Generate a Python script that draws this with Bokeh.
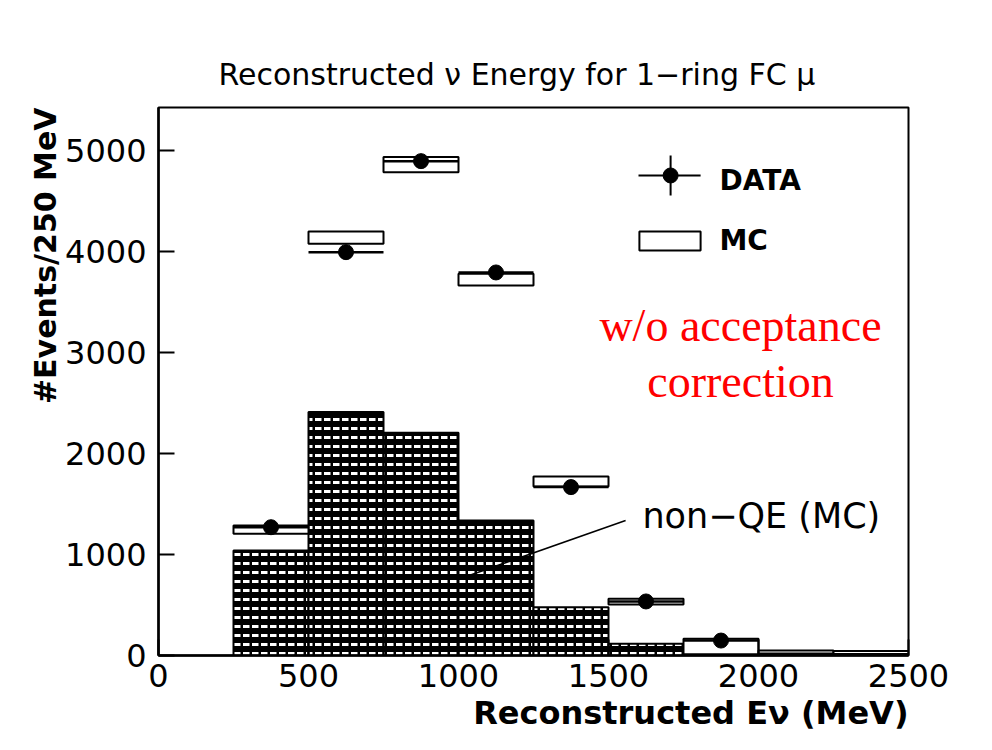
from bokeh.plotting import figure
from bokeh.models import Range1d, FixedTicker, Title, Label
from bokeh.embed import file_html
from bokeh.resources import INLINE

# 250 MeV bins of reconstructed neutrino energy
bin_lo = [250, 500, 750, 1000, 1250, 1500, 1750, 2000, 2250]
bin_hi = [500, 750, 1000, 1250, 1500, 1750, 2000, 2250, 2500]

# non-QE component of the MC (hatched histogram)
nonqe = [1040, 2410, 2205, 1337, 478, 116, 15, 5, 2]

# MC prediction band per bin (open boxes)
mc_low = [1205, 4076, 4785, 3663, 1673, 505, 12, 20, 15]
mc_high = [1287, 4198, 4934, 3779, 1772, 561, 165, 50, 45]

# observed events
data_e = [375, 625, 875, 1125, 1375, 1625, 1875]
data_n = [1270, 3993, 4894, 3792, 1667, 535, 148]
data_err = [36, 63, 70, 62, 41, 23, 12]
half_bin = 125

x_ticks = [0, 500, 1000, 1500, 2000, 2500]
y_ticks = [0, 1000, 2000, 3000, 4000, 5000]

FONT = "DejaVu Sans"

p = figure(width=992, height=750, output_backend="svg", toolbar_location=None,
           x_range=Range1d(0, 2500), y_range=Range1d(0, 5425),
           min_border_left=158, min_border_right=84,
           min_border_top=107, min_border_bottom=95)
p.background_fill_color = "white"
p.border_fill_color = "white"
p.outline_line_color = "black"
p.outline_line_width = 2
p.xgrid.visible = False
p.ygrid.visible = False

# title
p.title.text = "Reconstructed \u03bd Energy for 1\u2212ring FC \u03bc"
p.title.text_font = FONT
p.title.text_font_size = "30px"
p.title.text_font_style = "normal"
p.title.text_color = "black"
p.title.align = "left"
p.title.offset = 60
p.title.standoff = 32

# axes
for ax, ticks in ((p.xaxis[0], x_ticks), (p.yaxis[0], y_ticks)):
    ax.ticker = FixedTicker(ticks=ticks)
    ax.minor_tick_line_color = None
    ax.major_tick_in = 16
    ax.major_tick_out = 0
    ax.major_tick_line_width = 2
    ax.axis_line_width = 2.5
    ax.major_label_text_font = FONT
    ax.major_label_text_font_size = "32px"
    ax.major_label_text_color = "black"
p.yaxis[0].major_label_standoff = 12
p.xaxis[0].major_label_standoff = 8

p.add_layout(Title(text="Reconstructed E\u03bd (MeV)", align="right",
                   text_font=FONT, text_font_size="32px", text_color="black",
                   text_font_style="bold", standoff=4), "below")
p.add_layout(Title(text="#Events/250 MeV", align="right",
                   text_font=FONT, text_font_size="30px", text_color="black",
                   text_font_style="bold", standoff=0), "left")

# non-QE histogram
p.quad(left=bin_lo, right=bin_hi, bottom=0, top=nonqe,
       fill_color="black", hatch_pattern="horizontal_dash",
       hatch_color="white", hatch_scale=9, hatch_weight=3,
       line_color="black", line_width=2)

# MC boxes
p.quad(left=bin_lo, right=bin_hi, bottom=mc_low, top=mc_high,
       fill_color="white", line_color="black", line_width=2)

# data points with bin-width bars
d_left = [e - half_bin for e in data_e]
d_right = [e + half_bin for e in data_e]
p.segment(x0=d_left, x1=d_right, y0=data_n, y1=data_n,
          line_color="black", line_width=2.5)
p.segment(x0=data_e, x1=data_e,
          y0=[n - s for n, s in zip(data_n, data_err)],
          y1=[n + s for n, s in zip(data_n, data_err)],
          line_color="black", line_width=2)
p.scatter(x=data_e, y=data_n, size=15, marker="circle",
          fill_color="black", line_color="black")

# legend
p.segment(x0=[1600, 1707], x1=[1807, 1707], y0=[4752, 4950], y1=[4752, 4554],
          line_color="black", line_width=2)
p.scatter(x=[1707], y=[4752], size=15, marker="circle",
          fill_color="black", line_color="black")
p.quad(left=[1603], right=[1807], bottom=[4010], top=[4198],
       fill_color="white", line_color="black", line_width=2)
p.add_layout(Label(x=1870, y=4700, text="DATA", text_font=FONT, text_color="black",
                   text_font_size="28px", text_font_style="bold",
                   text_baseline="alphabetic"))
p.add_layout(Label(x=1870, y=4110, text="MC", text_font=FONT, text_color="black",
                   text_font_size="28px", text_font_style="bold",
                   text_baseline="alphabetic"))

# non-QE pointer and label
p.segment(x0=[1007], x1=[1557], y0=[762], y1=[1337],
          line_color="black", line_width=1.5)
p.add_layout(Label(x=1613, y=1385, text="non\u2212QE (MC)", text_font=FONT,
                   text_color="black", text_font_size="35px",
                   text_baseline="alphabetic"))

# annotation in red
for txt, yy in (("w/o acceptance", 3265), ("correction", 2710)):
    p.add_layout(Label(x=1940, y=yy, text=txt, text_font="Liberation Serif",
                       text_font_size="46px", text_color="#ff0000",
                       text_align="center", text_baseline="alphabetic"))

open("out.html", "w").write(file_html(p, INLINE))
